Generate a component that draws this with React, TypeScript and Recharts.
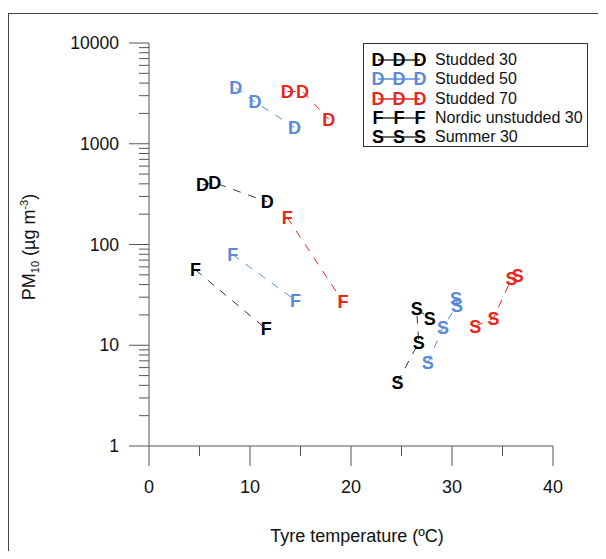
import React from 'react';
import { ScatterChart, Scatter, XAxis, YAxis, Label } from 'recharts';

// tyre temperature (ºC) vs PM10 (µg m-3)
const studded30 = [{ t: 5.3, pm: 390 }, { t: 6.5, pm: 410 }, { t: 11.7, pm: 265 }];
const studded50 = [{ t: 8.6, pm: 3600 }, { t: 10.5, pm: 2600 }, { t: 14.4, pm: 1450 }];
const studded70 = [{ t: 13.7, pm: 3300 }, { t: 15.2, pm: 3300 }, { t: 17.8, pm: 1750 }];
const nordic30 = [{ t: 4.6, pm: 56 }, { t: 11.6, pm: 14.5 }];
const nordic50 = [{ t: 8.3, pm: 79 }, { t: 14.5, pm: 28 }];
const nordic70 = [{ t: 13.7, pm: 185 }, { t: 19.2, pm: 27 }];
const summer30 = [{ t: 24.6, pm: 4.3 }, { t: 26.7, pm: 10.6 }, { t: 26.5, pm: 23 }, { t: 27.8, pm: 18.5 }];
const summer50 = [{ t: 27.6, pm: 6.7 }, { t: 29.1, pm: 15 }, { t: 30.5, pm: 25 }, { t: 30.4, pm: 29 }];
const summer70 = [{ t: 32.3, pm: 15.5 }, { t: 34.1, pm: 18.5 }, { t: 35.9, pm: 46 }, { t: 36.5, pm: 49 }];

const xTicks = [0, 5, 10, 15, 20, 25, 30, 35, 40];
const yMajor = [1, 10, 100, 1000, 10000];
const yTicks = [1, 2, 3, 4, 5, 6, 7, 8, 9, 10, 20, 30, 40, 50, 60, 70, 80, 90, 100, 200, 300, 400, 500, 600, 700, 800, 900, 1000, 2000, 3000, 4000, 5000, 6000, 7000, 8000, 9000, 10000];

const legendItems = [
  { letter: 'D', color: '#000000', name: 'Studded 30' },
  { letter: 'D', color: '#5b8ad6', name: 'Studded 50' },
  { letter: 'D', color: '#e8261c', name: 'Studded 70' },
  { letter: 'F', color: '#000000', name: 'Nordic unstudded 30' },
  { letter: 'S', color: '#000000', name: 'Summer 30' },
];

const BLACK = '#000000';
const BLUE = '#5b8ad6';
const RED = '#e8261c';
const AXIS = '#555555';
const FONT = 'Arial, "Liberation Sans", sans-serif';

const letterShape = (letter: string, color: string) => (props: any) => (
  <text
    x={props.cx}
    y={props.cy}
    dy="0.36em"
    textAnchor="middle"
    fill={color}
    fontSize={18}
    fontWeight="bold"
    fontFamily={FONT}
  >
    {letter}
  </text>
);

const YTick = ({ x, y, payload }: any) => {
  const major = yMajor.includes(payload.value);
  return (
    <g>
      <line x1={x - (major ? 20 : 10)} x2={x} y1={y} y2={y} stroke={AXIS} />
      {major && (
        <text x={x - 30} y={y} dy="0.35em" textAnchor="end" fontSize={17.5} fill="#111" fontFamily={FONT}>
          {payload.value}
        </text>
      )}
    </g>
  );
};

const XTick = ({ x, y, payload }: any) => {
  const major = payload.value % 10 === 0;
  return (
    <g>
      <line x1={x} x2={x} y1={y} y2={y + (major ? 20 : 10)} stroke={AXIS} />
      {major && (
        <text x={x} y={y + 41} dy="0.35em" textAnchor="middle" fontSize={18} fill="#111" fontFamily={FONT}>
          {payload.value}
        </text>
      )}
    </g>
  );
};

const LegendBox = () => (
  <div style={{ position: 'absolute', left: 355, top: 35, width: 225, height: 104, border: '1px solid #333', background: '#fff', boxSizing: 'border-box', fontFamily: FONT }}>
    {legendItems.map((it, i) => {
      const cy = 16 + i * 19.3;
      return (
        <React.Fragment key={it.name}>
          <svg style={{ position: 'absolute', left: 4, top: cy - 10 }} width={60} height={20}>
            <line x1={10} x2={52} y1={10} y2={10} stroke={it.color === BLACK ? '#333' : it.color} strokeWidth={1.5} />
            {[10, 31, 52].map((lx) => (
              <text key={lx} x={lx} y={10} dy="0.36em" textAnchor="middle" fill={it.color} fontSize={18} fontWeight="bold" fontFamily={FONT}>
                {it.letter}
              </text>
            ))}
          </svg>
          <div style={{ position: 'absolute', left: 71, top: cy - 10, lineHeight: '20px', fontSize: 16, color: '#111', whiteSpace: 'nowrap' }}>
            {it.name}
          </div>
        </React.Fragment>
      );
    })}
  </div>
);

export default function App() {
  const dash = '8 8';
  return (
    <div style={{ position: 'relative', width: 598, height: 551, marginBottom: -8, overflow: 'hidden' }}>
      <ScatterChart width={590} height={543} margin={{ top: 35, right: 45, bottom: 75, left: 81 }}>
        <XAxis
          type="number"
          dataKey="t"
          domain={[0, 40]}
          ticks={xTicks}
          interval={0}
          height={30}
          stroke={AXIS}
          tickSize={0}
          tickMargin={0}
          tickLine={false}
          tick={<XTick />}
        >
          <Label
            content={() => (
              <text x={349} y={528} dy="0.35em" textAnchor="middle" fontSize={18} fill="#111" fontFamily={FONT}>
                Tyre temperature (ºC)
              </text>
            )}
          />
        </XAxis>
        <YAxis
          type="number"
          dataKey="pm"
          scale="log"
          domain={[1, 10000]}
          ticks={yTicks}
          interval={0}
          width={60}
          stroke={AXIS}
          tickSize={0}
          tickMargin={0}
          tickLine={false}
          tick={<YTick />}
        >
          <Label
            content={() => (
              <text transform="translate(27 239) rotate(-90)" textAnchor="middle" fontSize={18} fill="#111" fontFamily={FONT}>
                PM<tspan dy={4} fontSize={11}>10</tspan>
                <tspan dy={-4}> (µg m</tspan>
                <tspan dy={-7} fontSize={11}>-3</tspan>
                <tspan dy={7}>)</tspan>
              </text>
            )}
          />
        </YAxis>
        <Scatter name="Studded 30" data={studded30} line={{ stroke: '#333', strokeDasharray: dash }} shape={letterShape('D', BLACK)} isAnimationActive={false} />
        <Scatter name="Studded 50" data={studded50} line={{ stroke: BLUE, strokeDasharray: dash }} shape={letterShape('D', BLUE)} isAnimationActive={false} />
        <Scatter name="Studded 70" data={studded70} line={{ stroke: RED, strokeDasharray: dash }} shape={letterShape('D', RED)} isAnimationActive={false} />
        <Scatter name="Nordic 30" data={nordic30} line={{ stroke: '#333', strokeDasharray: dash }} shape={letterShape('F', BLACK)} isAnimationActive={false} />
        <Scatter name="Nordic 50" data={nordic50} line={{ stroke: BLUE, strokeDasharray: dash }} shape={letterShape('F', BLUE)} isAnimationActive={false} />
        <Scatter name="Nordic 70" data={nordic70} line={{ stroke: RED, strokeDasharray: dash }} shape={letterShape('F', RED)} isAnimationActive={false} />
        <Scatter name="Summer 30" data={summer30} line={{ stroke: '#333', strokeDasharray: dash }} shape={letterShape('S', BLACK)} isAnimationActive={false} />
        <Scatter name="Summer 50" data={summer50} line={{ stroke: BLUE, strokeDasharray: dash }} shape={letterShape('S', BLUE)} isAnimationActive={false} />
        <Scatter name="Summer 70" data={summer70} line={{ stroke: RED, strokeDasharray: dash }} shape={letterShape('S', RED)} isAnimationActive={false} />
      </ScatterChart>
      <LegendBox />
      {/* figure frame: top and left edges */}
      <div style={{ position: 'absolute', left: 0, top: 5, width: 598, height: 1, background: '#444' }} />
      <div style={{ position: 'absolute', left: 0, top: 5, width: 1, height: 546, background: '#444' }} />
    </div>
  );
}
